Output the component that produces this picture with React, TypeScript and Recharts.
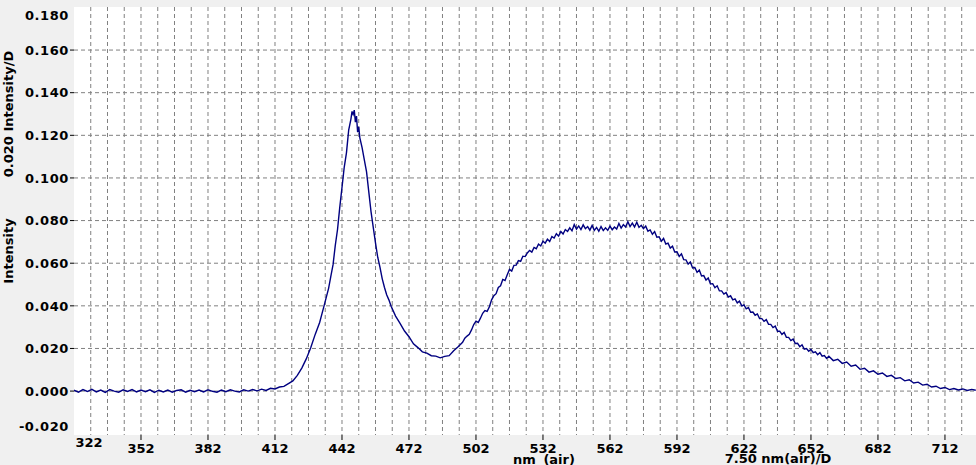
import React from "react";
import { LineChart, Line, XAxis, YAxis, CartesianGrid } from "recharts";

// Baseline 322–410 nm
const WL_BASE = [
  322, 324, 326, 328, 330, 332, 334, 336, 338, 340, 342, 344, 346, 348, 350,
  352, 354, 356, 358, 360, 362, 364, 366, 368, 370, 372, 374, 376, 378, 380,
  382, 384, 386, 388, 390, 392, 394, 396, 398, 400, 402, 404, 406, 408, 410,
];
const I_BASE = [
  0.0004, -0.0005, 0.0007, -0.0002, 0.0008, -0.0004, 0.0005, -0.0006, 0.0007, 0.0, -0.0005, 0.0006, -0.0002, 0.0007, -0.0004,
  0.0005, -0.0003, 0.0006, -0.0006, 0.0004, -0.0004, 0.0005, -0.0005, 0.0003, 0.0006, -0.0005, 0.0004, -0.0003, 0.0005, -0.0004,
  0.0006, -0.0001, -0.0005, 0.0005, -0.0003, 0.0006, 0.0, -0.0004, 0.0006, 0.0, 0.0007, 0.0001, 0.0009, 0.0003, 0.0013,
];

// Blue peak and valley 412–494 nm
const WL_PEAK = [
  412, 414, 416, 418, 420, 422, 424, 426, 428, 430, 432, 434, 436, 437, 438,
  439, 440, 441, 442, 443, 444, 445, 446, 446.5, 447, 447.5, 448, 448.5, 449, 449.5,
  450, 451, 452, 453, 454, 455, 456, 457, 458, 459, 460, 461, 462, 463, 464,
  466, 468, 470, 472, 474, 476, 478, 480, 482, 484, 486, 488, 490, 492, 494,
];
const I_PEAK = [
  0.001, 0.0019, 0.0022, 0.0035, 0.0048, 0.0074, 0.0108, 0.0151, 0.0203, 0.0266, 0.0322, 0.0401, 0.0482, 0.0538, 0.0593,
  0.0684, 0.0758, 0.0862, 0.0955, 0.105, 0.1118, 0.1225, 0.1276, 0.1312, 0.1298, 0.1318, 0.1262, 0.129, 0.1215, 0.124,
  0.1188, 0.1142, 0.1085, 0.1028, 0.0935, 0.0842, 0.0768, 0.0695, 0.0628, 0.0582, 0.0528, 0.0487, 0.0452, 0.0428, 0.0398,
  0.0352, 0.0318, 0.0282, 0.0255, 0.0222, 0.0204, 0.0184, 0.0178, 0.0166, 0.0164, 0.0156, 0.0163, 0.0166, 0.0189, 0.0208,
];

// Broad phosphor band 496–660 nm
const WL_BAND = [
  496, 497, 498, 499, 500, 501, 502, 503, 504, 505, 506, 507, 508, 509, 510,
  511, 512, 513, 514, 515, 516, 517, 518, 519, 520, 521, 522, 523, 524, 525,
  526, 527, 528, 529, 530, 531, 532, 533, 534, 535, 536, 537, 538, 539, 540,
  541, 542, 543, 544, 545, 546, 547, 548, 549, 550, 551, 552, 553, 554, 555,
  556, 557, 558, 559, 560, 561, 562, 563, 564, 565, 566, 567, 568, 569, 570,
  571, 572, 573, 574, 575, 576, 577, 578, 579, 580, 581, 582, 583, 584, 585,
  586, 587, 588, 589, 590, 591, 592, 593, 594, 595, 596, 597, 598, 599, 600,
  601, 602, 603, 604, 605, 606, 607, 608, 609, 610, 611, 612, 613, 614, 615,
  616, 617, 618, 619, 620, 621, 622, 623, 624, 625, 626, 627, 628, 629, 630,
  631, 632, 633, 634, 635, 636, 637, 638, 639, 640, 641, 642, 643, 644, 645,
  646, 647, 648, 649, 650, 651, 652, 653, 654, 655, 656, 657, 658, 659, 660,
];
const I_BAND = [
  0.0229, 0.0248, 0.0258, 0.0266, 0.0287, 0.0312, 0.0328, 0.0322, 0.0342, 0.0365, 0.0378, 0.0374, 0.0396, 0.0428, 0.0448,
  0.0457, 0.0486, 0.0494, 0.0524, 0.0519, 0.0546, 0.0571, 0.0563, 0.059, 0.0591, 0.0612, 0.0609, 0.0633, 0.0631, 0.0648,
  0.066, 0.0652, 0.0674, 0.0668, 0.069, 0.0681, 0.0703, 0.0694, 0.0713, 0.0702, 0.0725, 0.0718, 0.0738, 0.0727, 0.0749,
  0.0737, 0.0758, 0.0749, 0.0766, 0.0752, 0.0781, 0.076, 0.0775, 0.0758, 0.078, 0.0762, 0.0772, 0.0755, 0.0777, 0.0754,
  0.0768, 0.075, 0.0772, 0.0753, 0.0766, 0.0754, 0.0774, 0.0757, 0.077, 0.076, 0.0786, 0.0765, 0.0781, 0.077, 0.0795,
  0.0772, 0.0788, 0.077, 0.0792, 0.0768, 0.0778, 0.0762, 0.0774, 0.075, 0.0756, 0.0736, 0.0748, 0.0722, 0.0724, 0.0703,
  0.0716, 0.069, 0.0694, 0.0671, 0.068, 0.0653, 0.0654, 0.0632, 0.0644, 0.0617, 0.0616, 0.0596, 0.0606, 0.0578, 0.058,
  0.0557, 0.0568, 0.054, 0.0542, 0.0521, 0.0531, 0.0503, 0.0504, 0.0485, 0.0494, 0.047, 0.047, 0.0455, 0.0462, 0.0441,
  0.0447, 0.0428, 0.0433, 0.0414, 0.0422, 0.04, 0.0404, 0.0386, 0.0392, 0.037, 0.0371, 0.0356, 0.0362, 0.034, 0.034,
  0.0327, 0.0335, 0.0313, 0.0313, 0.0298, 0.0305, 0.0281, 0.0281, 0.0266, 0.0275, 0.0252, 0.0252, 0.0237, 0.0244, 0.0223,
  0.0224, 0.0208, 0.0217, 0.0197, 0.02, 0.0187, 0.0196, 0.018, 0.0184, 0.0171, 0.0181, 0.0164, 0.0167, 0.0153, 0.0164,
];

// Red tail 662–725.8 nm
const WL_TAIL = [
  662, 664, 666, 668, 670, 672, 674, 676, 678, 680, 682, 684, 686, 688, 690,
  692, 694, 696, 698, 700, 702, 704, 706, 708, 710, 712, 714, 716, 718, 720,
  722, 724, 725.8,
];
const I_TAIL = [
  0.0143, 0.0149, 0.013, 0.0136, 0.0117, 0.0122, 0.0102, 0.0107, 0.0089, 0.0095, 0.0079, 0.0085, 0.0069, 0.0074, 0.0059,
  0.0063, 0.0048, 0.0053, 0.0038, 0.0042, 0.0028, 0.0032, 0.0019, 0.0023, 0.0012, 0.0017, 0.0007, 0.0012, 0.0005, 0.001,
  0.0003, 0.0008, 0.0004,
];

const X_TICKS = [322, 352, 382, 412, 442, 472, 502, 532, 562, 592, 622, 652, 682, 712];
const Y_TICKS = [-0.02, 0, 0.02, 0.04, 0.06, 0.08, 0.1, 0.12, 0.14, 0.16, 0.18];
const X_GRID = [
  329.5, 337, 344.5, 352, 359.5, 367, 374.5, 382, 389.5, 397, 404.5, 412, 419.5, 427,
  434.5, 442, 449.5, 457, 464.5, 472, 479.5, 487, 494.5, 502, 509.5, 517, 524.5, 532,
  539.5, 547, 554.5, 562, 569.5, 577, 584.5, 592, 599.5, 607, 614.5, 622, 629.5, 637,
  644.5, 652, 659.5, 667, 674.5, 682, 689.5, 697, 704.5, 712, 719.5,
];
const Y_GRID = [0, 0.02, 0.04, 0.06, 0.08, 0.1, 0.12, 0.14, 0.16];

const WAVELENGTHS = [...WL_BASE, ...WL_PEAK, ...WL_BAND, ...WL_TAIL];
const INTENSITY = [...I_BASE, ...I_PEAK, ...I_BAND, ...I_TAIL];
const data = WAVELENGTHS.map((w, i) => ({ w, v: INTENSITY[i] }));

const W = 976;
const H = 465;
const Y_AXIS_W = 74;
const X_AXIS_H = 30;
const TOP = 7;
const PLOT_BOTTOM = H - X_AXIS_H;
const FONT = "'DejaVu Sans', Verdana, sans-serif";

const XTick = (props: any) => {
  const { x, payload } = props;
  const first = payload.value === X_TICKS[0];
  return (
    <g>
      {!first && <line x1={x} x2={x} y1={PLOT_BOTTOM} y2={PLOT_BOTTOM + 5} stroke="#000" strokeWidth={1} />}
      <text
        x={first ? x + 15 : x}
        y={first ? 447 : 452.5}
        textAnchor="middle"
        fontFamily={FONT}
        fontWeight="bold"
        fontSize={13}
        fill="#000"
      >
        {payload.value}
      </text>
    </g>
  );
};

const YTick = (props: any) => {
  const { y, payload } = props;
  const v = payload.value as number;
  let dy = 0;
  let showLine = true;
  if (v > 0.179) {
    dy = 7.5;
    showLine = false;
  }
  if (v < -0.019) {
    dy = -7.5;
    showLine = false;
  }
  return (
    <g>
      <text
        x={69}
        y={y + dy + 4.7}
        textAnchor="end"
        fontFamily={FONT}
        fontWeight="bold"
        fontSize={13}
        letterSpacing={0.6}
        fill="#000"
      >
        {v.toFixed(3)}
      </text>
      {showLine && <line x1={70} x2={Y_AXIS_W} y1={y} y2={y} stroke="#000" strokeWidth={1} />}
    </g>
  );
};

export default function App() {
  return (
    <div style={{ position: "absolute", left: 0, top: 0, width: W, height: H, background: "#f0f0f0", overflow: "hidden" }}>
      <LineChart width={W} height={H} data={data} margin={{ top: TOP, right: 0, bottom: 0, left: 0 }}>
        <CartesianGrid
          fill="#ffffff"
          fillOpacity={1}
          stroke="#808080"
          strokeDasharray="4 3"
          horizontalValues={Y_GRID}
          verticalValues={X_GRID}
        />
        <XAxis
          dataKey="w"
          type="number"
          domain={[322, 725.9]}
          allowDataOverflow
          ticks={X_TICKS}
          interval={0}
          height={X_AXIS_H}
          axisLine={false}
          tickLine={false}
          tick={<XTick />}
        />
        <YAxis
          type="number"
          domain={[-0.0206, 0.1802]}
          allowDataOverflow
          ticks={Y_TICKS}
          interval={0}
          width={Y_AXIS_W}
          axisLine={false}
          tickLine={false}
          tick={<YTick />}
        />
        <Line
          type="linear"
          dataKey="v"
          stroke="#000080"
          strokeWidth={1.4}
          dot={false}
          isAnimationActive={false}
        />
      </LineChart>
      <svg width={W} height={H} style={{ position: "absolute", left: 0, top: 0, pointerEvents: "none" }}>
        <text
          transform="translate(12.5,251) rotate(-90)"
          textAnchor="middle"
          fontFamily={FONT}
          fontWeight="bold"
          fontSize={13}
          fill="#000"
        >
          Intensity
        </text>
        <text
          transform="translate(12.5,114) rotate(-90)"
          textAnchor="middle"
          fontFamily={FONT}
          fontWeight="bold"
          fontSize={13}
          fill="#000"
        >
          0.020 Intensity/D
        </text>
        <text x={544} y={463.5} textAnchor="middle" fontFamily={FONT} fontWeight="bold" fontSize={13} wordSpacing={3} fill="#000">
          nm (air)
        </text>
        <text x={778} y={463} textAnchor="middle" fontFamily={FONT} fontWeight="bold" fontSize={13} fill="#000">
          7.50 nm(air)/D
        </text>
      </svg>
    </div>
  );
}
